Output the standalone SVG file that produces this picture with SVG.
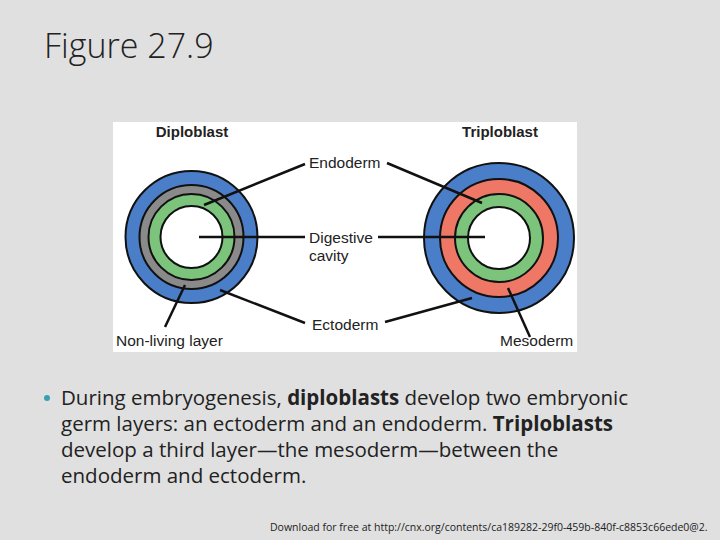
<svg xmlns="http://www.w3.org/2000/svg" width="720" height="540" viewBox="0 0 720 540">
<style>
.l{stroke:#111;stroke-width:2.5;fill:none}
.c{stroke:#111;stroke-width:2}
.t{font-family:"Liberation Sans",Arial,sans-serif;font-size:15.5px;fill:#222}
.h{font-family:"Liberation Sans",Arial,sans-serif;font-size:15px;font-weight:bold;fill:#222}
.b{font-family:"Open Sans","Liberation Sans",sans-serif;font-size:20.5px;fill:#222}
</style>
<rect width="720" height="540" fill="#e0e0e0"/>
<text x="44" y="58" font-family="Open Sans,Liberation Sans,sans-serif" font-size="34" font-weight="300" fill="#222">Figure 27.9</text>
<rect x="113" y="122" width="464" height="230" fill="#fff"/>
<g id="diploblast">
<circle cx="191.5" cy="237" r="66" fill="#4a7ec8" class="c"/>
<circle cx="191.5" cy="237" r="52" fill="#8a8a8a" class="c"/>
<circle cx="191.5" cy="237" r="43" fill="#7cc47c" class="c"/>
<circle cx="191.5" cy="237" r="31" fill="#fff" class="c"/>
<text x="192" y="137" text-anchor="middle" class="h">Diploblast</text>
</g>
<g id="triploblast">
<circle cx="499" cy="238" r="75" fill="#4a7ec8" class="c"/>
<circle cx="499" cy="238" r="59" fill="#ee7766" class="c"/>
<circle cx="499" cy="238" r="44" fill="#7cc47c" class="c"/>
<circle cx="499" cy="238" r="31" fill="#fff" class="c"/>
<text x="500" y="137" text-anchor="middle" class="h">Triploblast</text>
</g>
<g id="connectors">
<line class="l" x1="204" y1="205" x2="305" y2="164"/>
<line class="l" x1="387" y1="163" x2="482" y2="203"/>
<line class="l" x1="199" y1="237" x2="305" y2="237"/>
<line class="l" x1="378" y1="237" x2="485" y2="237"/>
<line class="l" x1="220" y1="290" x2="305" y2="323"/>
<line class="l" x1="385" y1="322" x2="472" y2="298"/>
<line class="l" x1="185" y1="285" x2="165" y2="327"/>
<line class="l" x1="508" y1="288" x2="530" y2="337"/>
</g>
<g id="labels">
<text x="309" y="168" class="t">Endoderm</text>
<text x="309" y="243" class="t">Digestive</text>
<text x="309" y="261" class="t">cavity</text>
<text x="312" y="330" class="t">Ectoderm</text>
<text x="116" y="346" class="t">Non-living layer</text>
<text x="500" y="346" class="t">Mesoderm</text>
</g>
<circle cx="47" cy="398" r="3" fill="#3aa0b0"/>
<text class="b" x="61" y="405">During embryogenesis, <tspan font-weight="bold">diploblasts</tspan> develop two embryonic</text>
<text class="b" x="61" y="431">germ layers: an ectoderm and an endoderm. <tspan font-weight="bold">Triploblasts</tspan></text>
<text class="b" x="61" y="457">develop a third layer—the mesoderm—between the</text>
<text class="b" x="61" y="483">endoderm and ectoderm.</text>
<text x="270" y="531" font-family="Open Sans,Liberation Sans,sans-serif" font-size="10.5" fill="#222">Download for free at http://cnx.org/contents/ca189282-29f0-459b-840f-c8853c66ede0@2.</text>
</svg>
